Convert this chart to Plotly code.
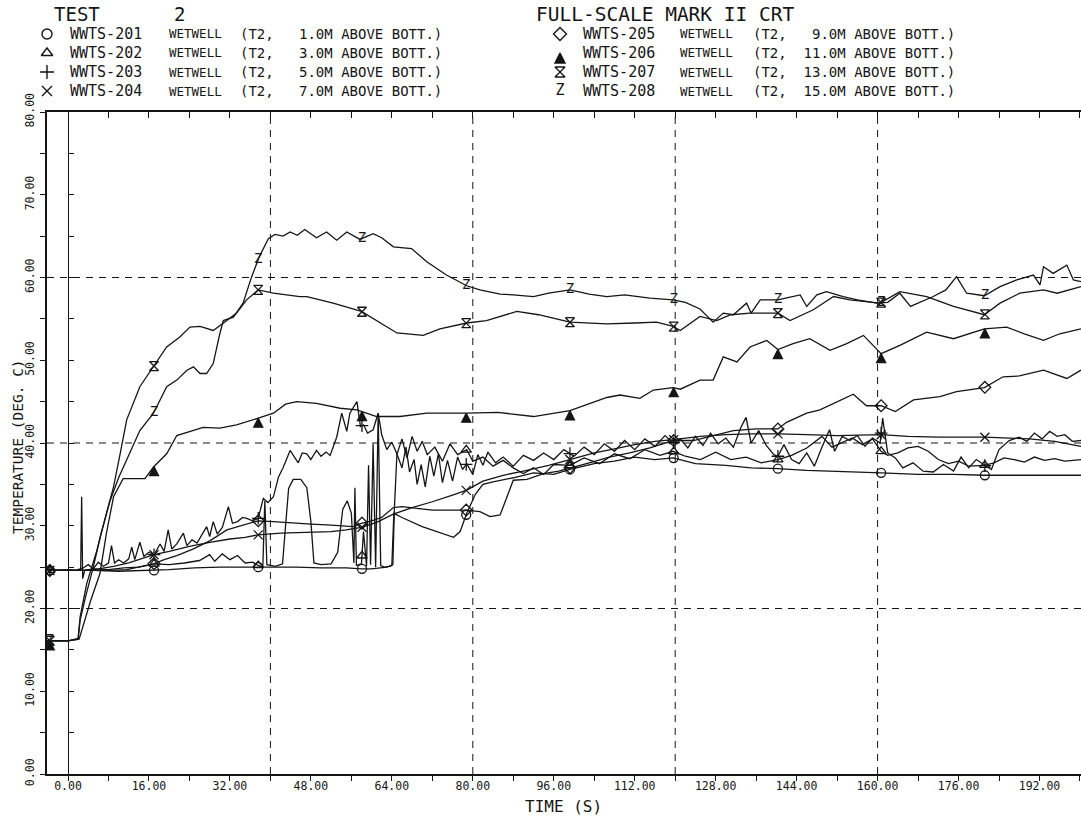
import numpy as np
import plotly.graph_objects as go

# ---- wetwell thermocouple records: (time s, temperature deg C) ----
s201 = [(-4.2, 24.6), (0, 24.6), (5, 24.6), (10, 24.5), (17, 24.6), (20, 24.7), (25, 24.9),
        (30, 25.0), (37.6, 25.0), (45, 25.0), (50, 24.9), (55, 24.9), (58, 24.8), (60, 24.8),
        (63, 25.0), (64.0, 25.2), (64.4, 31.5), (66, 31.0), (70, 29.9), (74, 29.0), (76.2, 28.6),
        (77.5, 29.3), (78.8, 31.5), (80.5, 33.8), (82, 35.0), (84, 35.3), (88, 35.8), (92, 36.4),
        (96, 36.2), (99.2, 36.8), (104, 37.5), (108, 37.8), (112, 38.3), (116, 38.0), (119.6, 38.2),
        (124, 37.5), (130, 37.3), (135, 37.0), (140.3, 36.9), (146, 36.7), (152, 36.6),
        (160.7, 36.4), (168, 36.2), (175, 36.2), (181.1, 36.1), (190, 36.1), (200.2, 36.1)]

s202 = [(-4.2, 24.6), (0, 24.6), (2.5, 24.6), (2.7, 33.5), (2.9, 23.6), (3.3, 24.6), (5, 24.8),
        (8, 24.7), (11, 24.9), (14, 25.0), (17, 25.4), (20, 25.3), (23, 25.5), (26, 25.8),
        (28, 26.5), (29, 25.7), (30.5, 26.6), (32, 25.9), (33.5, 26.4), (35, 25.5), (36.5, 25.6),
        (37.6, 25.2), (38.5, 25.0), (38.9, 33.0), (39.3, 25.3), (41, 25.1), (42.4, 25.4), (43, 30.0),
        (43.6, 34.5), (44.5, 35.6), (46, 35.6), (47.2, 34.6), (48, 30.5), (48.6, 25.5), (50, 25.3),
        (52, 25.4), (53.3, 26.8), (54.3, 32.0), (55.2, 33.0), (56, 31.5), (56.5, 25.5), (56.7, 34.6),
        (57, 25.2), (58, 25.4), (58.4, 29.3), (59, 25.1), (59.4, 37.3), (59.8, 25.3), (60.3, 39.9),
        (60.8, 25.0), (61.3, 43.6), (61.8, 25.2), (62.5, 25.0), (63.5, 25.1), (64.2, 25.3),
        (64.5, 32.0), (65, 38.6), (66, 40.5), (67, 38.2), (68, 40.8), (69, 39.0), (70, 40.2),
        (71, 38.6), (72.5, 39.5), (74, 37.8), (75.5, 39.9), (77, 38.6), (78.8, 39.2), (80, 37.8),
        (82, 38.3), (84, 37.2), (86, 37.9), (88, 37.0), (90, 36.3), (92, 37.0), (94, 36.2),
        (96, 37.4), (99.2, 37.3), (102, 38.2), (105, 37.5), (108, 38.7), (111, 38.1), (114, 39.2),
        (117, 38.5), (119.6, 39.0), (122, 38.4), (125, 38.0), (128, 38.9), (131, 38.0), (134, 38.3),
        (137, 37.6), (140.3, 38.0), (143, 38.5), (146, 39.4), (149, 40.8), (151, 39.5), (153, 40.1),
        (155, 40.6), (157, 39.8), (159, 40.5), (160.7, 39.0), (162, 38.5), (164, 38.8), (166, 39.4),
        (168, 39.6), (170, 39.0), (172, 38.0), (174, 37.5), (176, 37.8), (178, 37.2), (181.1, 37.3),
        (183, 37.6), (185, 38.2), (187, 38.0), (189, 37.7), (191, 38.3), (193, 37.9), (195, 38.1),
        (197, 37.8), (200.2, 38.0)]

s203 = [(-4.2, 24.6), (0, 24.7), (1.5, 24.6), (3, 24.9), (4, 25.3), (5, 24.8), (6, 25.6), (7, 25.1),
        (8, 25.5), (8.6, 27.6), (9.2, 25.5), (10, 25.9), (11, 25.5), (12, 26.0), (12.6, 27.4),
        (13.2, 25.9), (14.2, 28.0), (15, 26.3), (16, 26.8), (17, 26.5), (18.2, 27.8), (19, 26.9),
        (19.8, 29.5), (20.5, 27.2), (21.5, 27.8), (22.8, 29.1), (23.5, 27.6), (24.5, 28.3),
        (25.5, 27.9), (26.5, 28.9), (27.4, 29.9), (28, 28.7), (28.7, 30.5), (29.5, 29.0),
        (30.5, 29.8), (31.7, 32.3), (32.5, 30.3), (33.5, 30.5), (34.5, 31.0), (35.3, 30.9),
        (36.5, 30.6), (37.6, 30.9), (38.6, 33.3), (39.5, 32.8), (40.6, 33.5), (41.6, 35.9),
        (42.5, 37.0), (43.9, 39.1), (44.5, 38.5), (45.5, 37.6), (46.3, 38.8), (47.2, 38.7),
        (48, 38.0), (49.1, 39.1), (50, 38.4), (51, 38.9), (51.8, 38.5), (53.1, 40.7), (54.1, 43.6),
        (55.1, 41.4), (55.7, 43.6), (57.1, 45.0), (57.8, 42.0), (58.4, 42.2), (59.2, 41.2),
        (60.3, 41.6), (61.3, 43.6), (62, 41.0), (63, 39.2), (64, 40.1), (65, 38.7), (66, 37.0),
        (66.8, 39.5), (67.5, 36.5), (68.4, 38.0), (69, 35.0), (69.8, 37.4), (70.6, 34.7),
        (71.5, 38.4), (72.3, 36.0), (73.2, 38.7), (74, 35.2), (75, 37.9), (76, 35.4), (77, 38.3),
        (78, 36.8), (78.8, 37.5), (80, 36.2), (81, 38.6), (82, 37.3), (83, 38.9), (84.5, 37.6),
        (86, 38.3), (88, 37.2), (90, 38.5), (92, 37.9), (94, 38.8), (96, 38.0), (98, 39.2),
        (100, 38.4), (102, 39.5), (104, 38.6), (106, 39.9), (108, 39.0), (110, 40.3), (112, 39.2),
        (114, 40.5), (116, 39.6), (118, 40.9), (119.6, 40.0), (121, 40.5), (122.5, 39.4),
        (124, 40.8), (125.5, 39.7), (127, 41.2), (128.5, 39.9), (130, 40.6), (131.5, 39.5),
        (133, 41.9), (134, 43.1), (135, 40.0), (136.5, 41.5), (138, 39.7), (139.5, 38.6),
        (140.3, 38.4), (141.5, 39.8), (143, 38.0), (144.5, 37.5), (146, 38.8), (147.5, 37.2),
        (149, 39.5), (150.5, 41.6), (151.5, 39.0), (153, 40.8), (154.5, 40.3), (156, 40.9),
        (157.5, 39.6), (159, 40.6), (160.5, 40.0), (161, 43.0), (162, 38.8), (163.5, 38.2),
        (165, 37.0), (167, 37.6), (169, 36.6), (171, 36.5), (173, 37.4), (175, 36.6), (176.5, 38.3),
        (178, 37.0), (179.5, 38.0), (181.1, 37.3), (182.5, 36.8), (184, 39.2), (186, 40.3),
        (188, 40.7), (189.5, 40.2), (191, 41.2), (192.5, 40.5), (194, 41.4), (195.5, 40.8),
        (197, 41.0), (198.5, 40.2), (200.2, 40.3)]

s204 = [(-4.2, 24.6), (0, 24.6), (3, 24.6), (6, 24.8), (9, 25.1), (12, 25.5), (15, 26.1), (17, 26.5),
        (20, 26.9), (24, 27.5), (28, 28.0), (32, 28.4), (35, 28.6), (37.6, 28.9), (42, 29.1),
        (47, 29.2), (52, 29.3), (55, 29.5), (58, 29.8), (61, 30.4), (64.3, 31.4), (68, 32.2),
        (72, 32.9), (76, 33.7), (78.8, 34.3), (82, 35.4), (86, 36.1), (90, 36.6), (95, 37.3),
        (99.2, 38.0), (104, 38.8), (108, 39.3), (112, 39.8), (116, 40.2), (119.6, 40.4),
        (125, 40.8), (130, 41.0), (135, 41.1), (140.3, 41.1), (146, 41.0), (152, 40.9),
        (160.7, 41.0), (166, 40.8), (172, 40.7), (181.1, 40.7), (186, 40.6), (190, 40.5),
        (195, 40.2), (200.2, 39.6)]

s205 = [(-4.2, 24.6), (0, 24.6), (4, 24.6), (8, 24.6), (11.6, 24.7), (14, 25.0), (16.9, 25.4),
        (19, 25.9), (21.5, 26.4), (24.8, 27.2), (28.1, 28.2), (31.4, 29.5), (34.7, 30.1),
        (37.6, 30.6), (40.6, 30.5), (44.5, 30.3), (48, 30.2), (51.2, 30.1), (54, 30.0), (56.4, 29.9),
        (58, 30.3), (60, 30.6), (62, 31.0), (64.3, 32.2), (66, 32.3), (69, 32.1), (72, 31.9),
        (76, 31.9), (78.8, 31.9), (81.4, 31.7), (83.4, 31.1), (85.4, 31.3), (86.7, 33.5), (88, 35.5),
        (90.7, 35.6), (94, 36.3), (97, 36.6), (99.2, 37.0), (103, 37.6), (107, 38.3), (111, 38.8),
        (115, 39.4), (119.6, 40.3), (123.6, 40.3), (127, 40.8), (131.5, 41.5), (136, 41.7),
        (140.3, 41.7), (142, 42.5), (146, 43.6), (148.6, 44.0), (152.2, 45.0), (155.2, 45.9),
        (157.8, 44.5), (160.7, 44.5), (163.5, 43.8), (167.1, 45.2), (172.3, 45.6), (175.6, 46.2),
        (181.1, 46.7), (184.8, 48.0), (188, 48.1), (192.8, 48.8), (197.4, 47.8), (200.2, 48.8)]

s206 = [(-4.2, 16.1), (0, 16.1), (2.2, 16.3), (3, 18.0), (4.5, 21.0), (6.3, 24.2), (7.6, 29.1),
        (9, 33.5), (10.9, 35.7), (12.9, 35.7), (15.2, 35.7), (16.9, 37.1), (19.5, 38.7), (21.5, 40.9),
        (23.5, 41.3), (26.7, 41.9), (30, 41.8), (33.3, 42.2), (37.6, 43.0), (40.6, 43.6), (43, 44.7),
        (45.2, 45.0), (49.1, 44.8), (53.8, 44.2), (57.1, 44.0), (61, 43.2), (65.6, 43.2),
        (70.9, 43.6), (78.8, 43.6), (85, 43.7), (92, 43.2), (99.2, 43.9), (106.5, 45.5),
        (109.1, 45.8), (113, 45.4), (115.7, 46.4), (119.6, 46.7), (121, 46.5), (124.9, 47.6),
        (127.5, 47.6), (129.5, 50.4), (132.2, 49.8), (134.8, 51.6), (138.1, 52.4), (140.3, 51.3),
        (143.3, 52.0), (146.6, 52.6), (150.6, 51.2), (153.9, 52.0), (157.2, 53.0), (160.7, 50.8),
        (164.4, 51.8), (169.7, 53.4), (175, 52.6), (181.1, 53.8), (185.5, 54.0), (189, 53.2),
        (192.8, 52.4), (196, 53.2), (200.2, 53.8)]

s207 = [(-4.2, 16.1), (0, 16.1), (2.0, 16.4), (2.4, 19.0), (3.7, 23.0), (5.7, 27.0), (7.6, 31.5),
        (9, 34.7), (10.3, 38.7), (11.6, 42.8), (14.2, 46.8), (17, 49.3), (19.5, 51.6), (22.1, 52.8),
        (24.1, 54.0), (26.1, 54.1), (28.7, 53.6), (31.4, 54.8), (33.3, 55.7), (35.3, 57.3),
        (37.6, 58.5), (40.6, 58.1), (45.8, 57.7), (47.2, 57.7), (52.4, 56.9), (58, 55.9),
        (61.7, 54.5), (65, 53.3), (70.2, 53.0), (73.5, 53.8), (78.8, 54.5), (82.7, 54.8),
        (88.7, 55.9), (93, 55.5), (99.2, 54.6), (106.5, 54.4), (112, 54.5), (116.3, 54.6),
        (119.6, 54.1), (121, 53.6), (124.9, 55.3), (128.2, 54.8), (131, 55.5), (134.8, 55.7),
        (140.3, 55.7), (142.7, 54.8), (147.3, 56.1), (151.3, 57.7), (154.5, 57.3), (160.5, 56.9),
        (164.4, 58.3), (169.7, 57.7), (175, 56.5), (181.1, 55.5), (184.2, 56.9), (188.1, 58.1),
        (192.8, 58.5), (195.5, 58.1), (200.2, 58.9)]

s208 = [(-4.2, 16.1), (0, 16.1), (2.0, 16.3), (2.4, 18.6), (3.5, 21.5), (5.0, 25.0), (6.5, 29.0),
        (8.3, 33.0), (10.0, 35.8), (11.6, 37.9), (14.2, 41.5), (16.9, 43.6), (19.5, 46.8),
        (21.5, 47.6), (23.5, 48.8), (24.8, 49.2), (26.1, 48.4), (27.4, 48.4), (28.7, 49.6),
        (30.0, 53.2), (30.7, 54.8), (32.7, 55.2), (34.6, 56.9), (36.3, 60.1), (37.8, 62.5),
        (39.6, 64.7), (40.9, 65.2), (42.5, 65.0), (43.9, 65.5), (45.3, 65.1), (46.8, 65.8),
        (49.1, 64.8), (51.1, 65.5), (53.1, 64.5), (55.1, 65.5), (57.7, 64.6), (60.3, 65.3),
        (62.0, 64.8), (64.3, 63.7), (67.9, 63.5), (70.9, 61.9), (74.8, 60.3), (78.8, 59.0),
        (81.4, 58.5), (85.4, 58.0), (88.0, 57.9), (92.0, 57.7), (95.0, 58.1), (99.2, 58.5),
        (103.0, 58.0), (106.5, 57.7), (110.0, 57.9), (115.0, 57.5), (119.6, 57.3), (122.0, 57.0),
        (124.9, 56.2), (127.5, 54.6), (129.5, 55.7), (131.5, 55.5), (134.1, 56.9), (135.0, 55.7),
        (136.8, 57.3), (140.3, 57.3), (142.5, 57.6), (144.7, 57.9), (146.0, 56.5), (148.0, 57.9),
        (149.9, 58.3), (153.2, 57.7), (156.0, 57.3), (159.8, 56.9), (162.0, 57.0), (164.4, 58.1),
        (166.5, 56.5), (171.0, 57.7), (173.5, 58.5), (175.6, 60.1), (177.6, 58.1), (181.1, 57.8),
        (184.2, 58.9), (187.5, 59.7), (190.8, 60.3), (192.1, 59.1), (192.8, 61.3), (194.7, 60.5),
        (197.4, 61.5), (198.7, 59.7), (200.2, 59.5)]

series = [s201, s202, s203, s204, s205, s206, s207, s208]
tags = ["WWTS-201", "WWTS-202", "WWTS-203", "WWTS-204",
        "WWTS-205", "WWTS-206", "WWTS-207", "WWTS-208"]
elev = ["1.0M", "3.0M", "5.0M", "7.0M", "9.0M", "11.0M", "13.0M", "15.0M"]
symbols = ["circle-open", "triangle-up-open", "cross-thin-open", "x-thin-open",
           "diamond-open", "arrow-up", "hourglass-open", None]  # None -> letter Z

# plotter puts a symbol on each curve at these times
mark_t = [-3.6, 17.0, 37.6, 58.1, 78.7, 99.2, 119.7, 140.3, 160.7, 181.2]

x_ticks = list(range(0, 193, 16))
y_ticks = list(range(0, 81, 10))
x_grid = [40, 80, 120, 160]
y_grid = [20, 40, 60]
X_RANGE = [-4.15, 200.2]
Y_RANGE = [0, 80]

INK = "#151515"
FONT = "DejaVu Sans Mono"
W, H = 1081, 819
# plot frame in page pixels
PL, PR, PT, PB = 47, 1081, 112, 774
XDOM = [PL / W, PR / W]
YDOM = [1 - PB / H, 1 - PT / H]

fig = go.Figure()

for pts, sym in zip(series, symbols):
    tt = np.array([p[0] for p in pts])
    vv = np.array([p[1] for p in pts])
    fig.add_trace(go.Scatter(x=tt, y=vv, mode="lines",
                             line=dict(color=INK, width=1.3),
                             hoverinfo="skip", showlegend=False))
    mv = np.interp(mark_t, tt, vv)
    if sym is None:
        fig.add_trace(go.Scatter(x=mark_t, y=mv, mode="text", text=["Z"] * len(mark_t),
                                 textfont=dict(family=FONT, size=14, color=INK),
                                 hoverinfo="skip", showlegend=False))
    else:
        fig.add_trace(go.Scatter(x=mark_t, y=mv, mode="markers",
                                 marker=dict(symbol=sym, size=9, color=INK,
                                             line=dict(color=INK, width=1.3)),
                                 hoverinfo="skip", showlegend=False))

# helpers that carry the top tick row and the t = 0 axis
fig.add_trace(go.Scatter(x=[0], y=[0], xaxis="x2", yaxis="y", mode="none",
                         hoverinfo="skip", showlegend=False))
fig.add_trace(go.Scatter(x=[0], y=[0], xaxis="x", yaxis="y2", mode="none",
                         hoverinfo="skip", showlegend=False))

# legend symbols, placed on a page-pixel subplot spanning the whole figure
leg_rows = [34, 53, 72, 91]
leg_sym_x = [47, 560]
for i, sym in enumerate(symbols):
    col, row = divmod(i, 4)
    px, py = leg_sym_x[col], leg_rows[row]
    if sym is None:
        fig.add_trace(go.Scatter(x=[px], y=[py], xaxis="x3", yaxis="y3", mode="text", text=["Z"],
                                 textfont=dict(family=FONT, size=15, color=INK),
                                 hoverinfo="skip", showlegend=False))
    else:
        fig.add_trace(go.Scatter(x=[px], y=[py], xaxis="x3", yaxis="y3", mode="markers",
                                 marker=dict(symbol=sym, size=10, color=INK,
                                             line=dict(color=INK, width=1.4)),
                                 hoverinfo="skip", showlegend=False))


def label(text, px, py, size, anchor="left", angle=0):
    fig.add_annotation(x=px / W, y=1 - py / H, xref="paper", yref="paper", text=text,
                       showarrow=False, xanchor=anchor, yanchor="middle", textangle=angle,
                       font=dict(family=FONT, size=size, color=INK))


label("TEST", 52, 14, 19)
label("2", 172, 14, 19)
label("FULL-SCALE MARK II CRT", 534, 14, 19.5)

name_x = [68, 581]
wet_x = [167, 678]
par_x = [238, 751]
for i in range(8):
    col, row = divmod(i, 4)
    py = leg_rows[row]
    label(tags[i], name_x[col], py, 15)
    label("WETWELL", wet_x[col], py, 12.5)
    label("(T2," + "\u00a0" * (7 - len(elev[i])) + elev[i] + " ABOVE BOTT.)", par_x[col], py, 14)

label("TIME (S)", 563, 806, 16, anchor="center")
label("TEMPERATURE (DEG. C)", 18, 447, 14.5, anchor="center", angle=-90)

for g in x_grid:
    fig.add_shape(type="line", x0=g, x1=g, y0=Y_RANGE[0], y1=Y_RANGE[1], xref="x", yref="y",
                  line=dict(color=INK, width=1, dash="7px,6px"), layer="below")
for g in y_grid:
    fig.add_shape(type="line", x0=X_RANGE[0], x1=X_RANGE[1], y0=g, y1=g, xref="x", yref="y",
                  line=dict(color=INK, width=1, dash="7px,6px"), layer="below")

zero_pos = XDOM[0] + (0 - X_RANGE[0]) / (X_RANGE[1] - X_RANGE[0]) * (XDOM[1] - XDOM[0])
tickfont = dict(family=FONT, size=11.5, color=INK)
fig.update_layout(
    width=W, height=H, margin=dict(l=0, r=0, t=0, b=0, autoexpand=False),
    paper_bgcolor="white", plot_bgcolor="rgba(0,0,0,0)", showlegend=False,
    xaxis=dict(domain=XDOM, range=X_RANGE, tickvals=x_ticks, tickformat=".2f", ticks="outside",
               ticklen=5, tickcolor=INK, tickwidth=1.2, showline=True, linecolor=INK, linewidth=1.6,
               showgrid=False, zeroline=False, tickfont=tickfont, ticklabelstandoff=-5,
               anchor="y",
               minor=dict(dtick=8, tick0=0, ticks="outside", ticklen=5, tickcolor=INK)),
    xaxis2=dict(range=X_RANGE, overlaying="x", side="top", anchor="y", showticklabels=False,
                tickvals=x_ticks, ticks="inside", ticklen=6, tickcolor=INK, tickwidth=1.2,
                showline=True, linecolor=INK, linewidth=1.6, showgrid=False, zeroline=False,
                minor=dict(dtick=8, tick0=0, ticks="inside", ticklen=6, tickcolor=INK)),
    yaxis=dict(domain=YDOM, range=Y_RANGE, tickvals=y_ticks, tickformat=".2f", tickangle=-90,
               ticks="outside", ticklen=5, tickcolor=INK, tickwidth=1.2, showline=True,
               linecolor=INK, linewidth=1.6, showgrid=False, zeroline=False, tickfont=tickfont,
               ticklabelstandoff=2, anchor="x",
               minor=dict(dtick=5, tick0=0, ticks="outside", ticklen=5, tickcolor=INK)),
    yaxis2=dict(range=Y_RANGE, overlaying="y", anchor="free", position=zero_pos,
                side="left", showticklabels=False, tickvals=y_ticks, ticks="inside", ticklen=5,
                tickcolor=INK, tickwidth=1.2, showline=True, linecolor=INK, linewidth=1.4,
                showgrid=False, zeroline=False,
                minor=dict(dtick=5, tick0=0, ticks="inside", ticklen=5, tickcolor=INK)),
    xaxis3=dict(domain=[0, 1], range=[0, W], anchor="y3", visible=False, fixedrange=True),
    yaxis3=dict(domain=[0, 1], range=[H, 0], anchor="x3", visible=False, fixedrange=True),
)

fig.write_html("out.html")
